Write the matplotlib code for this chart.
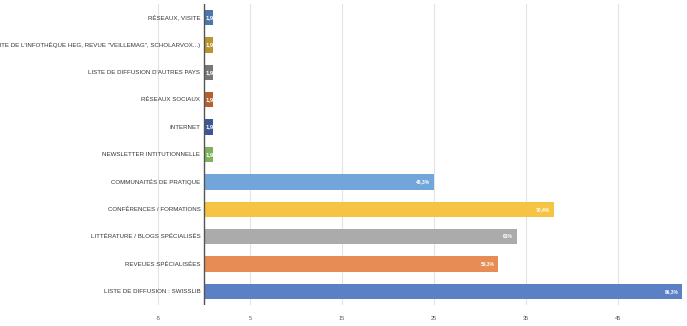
import matplotlib.pyplot as plt
from matplotlib import font_manager

# --------------------------
# Data (top to bottom)
# --------------------------
categories = [
    "RÉSEAUX, VISITE",
    "AUTRES CANAUX (SITE DE L'INFOTHÈQUE HEG, REVUE \"VEILLEMAG\", SCHOLARVOX...)",
    "LISTE DE DIFFUSION D'AUTRES PAYS",
    "RÉSEAUX SOCIAUX",
    "INTERNET",
    "NEWSLETTER INTITUTIONNELLE",
    "COMMUNAITÉS DE PRATIQUE",
    "CONFÉRENCES / FORMATIONS",
    "LITTÉRATURE / BLOGS SPÉCIALISÉS",
    "REVEUES SPÉCIALISÉES",
    "LISTE DE DIFFUSION : SWISSLIB",
]
counts = [1, 1, 1, 1, 1, 1, 25, 38, 34, 32, 52]
pct_labels = ["1,9%", "1,9%", "1,9%", "1,9%", "1,9%", "1,9%",
              "46,3%", "70,4%", "63%", "59,3%", "96,3%"]
bar_colors = ["#4a76ab", "#b8952f", "#777777", "#b3622c", "#3b5894", "#80b25a",
              "#72a6da", "#f5c443", "#ababab", "#e88c55", "#5b80c5"]
tick_values = [-5, 5, 15, 25, 35, 45]

# --------------------------
# Fonts
# --------------------------
names = {f.name for f in font_manager.fontManager.ttflist}
family = ["Liberation Sans Narrow"] if "Liberation Sans Narrow" in names else ["Liberation Sans"]
plt.rcParams['font.family'] = family + ["DejaVu Sans"]

# --------------------------
# Plot
# --------------------------
fig = plt.figure(figsize=(6.87, 3.26), dpi=100)
ax = fig.add_axes([0, 0.064, 1, 0.924])

y = list(range(len(categories)))
bars = ax.barh(y, counts, height=0.56, color=bar_colors, zorder=3)

ax.set_xlim(-22.2, 52.5)
ax.set_ylim(10.5, -0.5)

for v in tick_values:
    ax.axvline(v, color="#e3e3e3", lw=0.8, zorder=1)
ax.axvline(0, color="#555555", lw=1.0, zorder=4)

for yi, name in zip(y, categories):
    ax.text(-0.4, yi, name, ha="right", va="center", fontsize=4.4, color="#333333")

for bar, yi, c, lab in zip(bars, y, counts, pct_labels):
    if c > 5:
        ax.text(c - 0.4, yi, lab, ha="right", va="center", fontsize=3.6,
                color="white", fontweight="bold", zorder=5)
    else:
        t = ax.text(0.15, yi, lab, ha="left", va="center", fontsize=4.2,
                    color="white", fontweight="bold", zorder=5)
        t.set_clip_path(bar)

for v in tick_values:
    ax.text(v, 11.0, str(v), ha="center", va="center", fontsize=4, color="#555555",
            clip_on=False)

ax.set_xticks([])
ax.set_yticks([])
for s in ax.spines.values():
    s.set_visible(False)

fig.savefig("out.png", dpi=100)
